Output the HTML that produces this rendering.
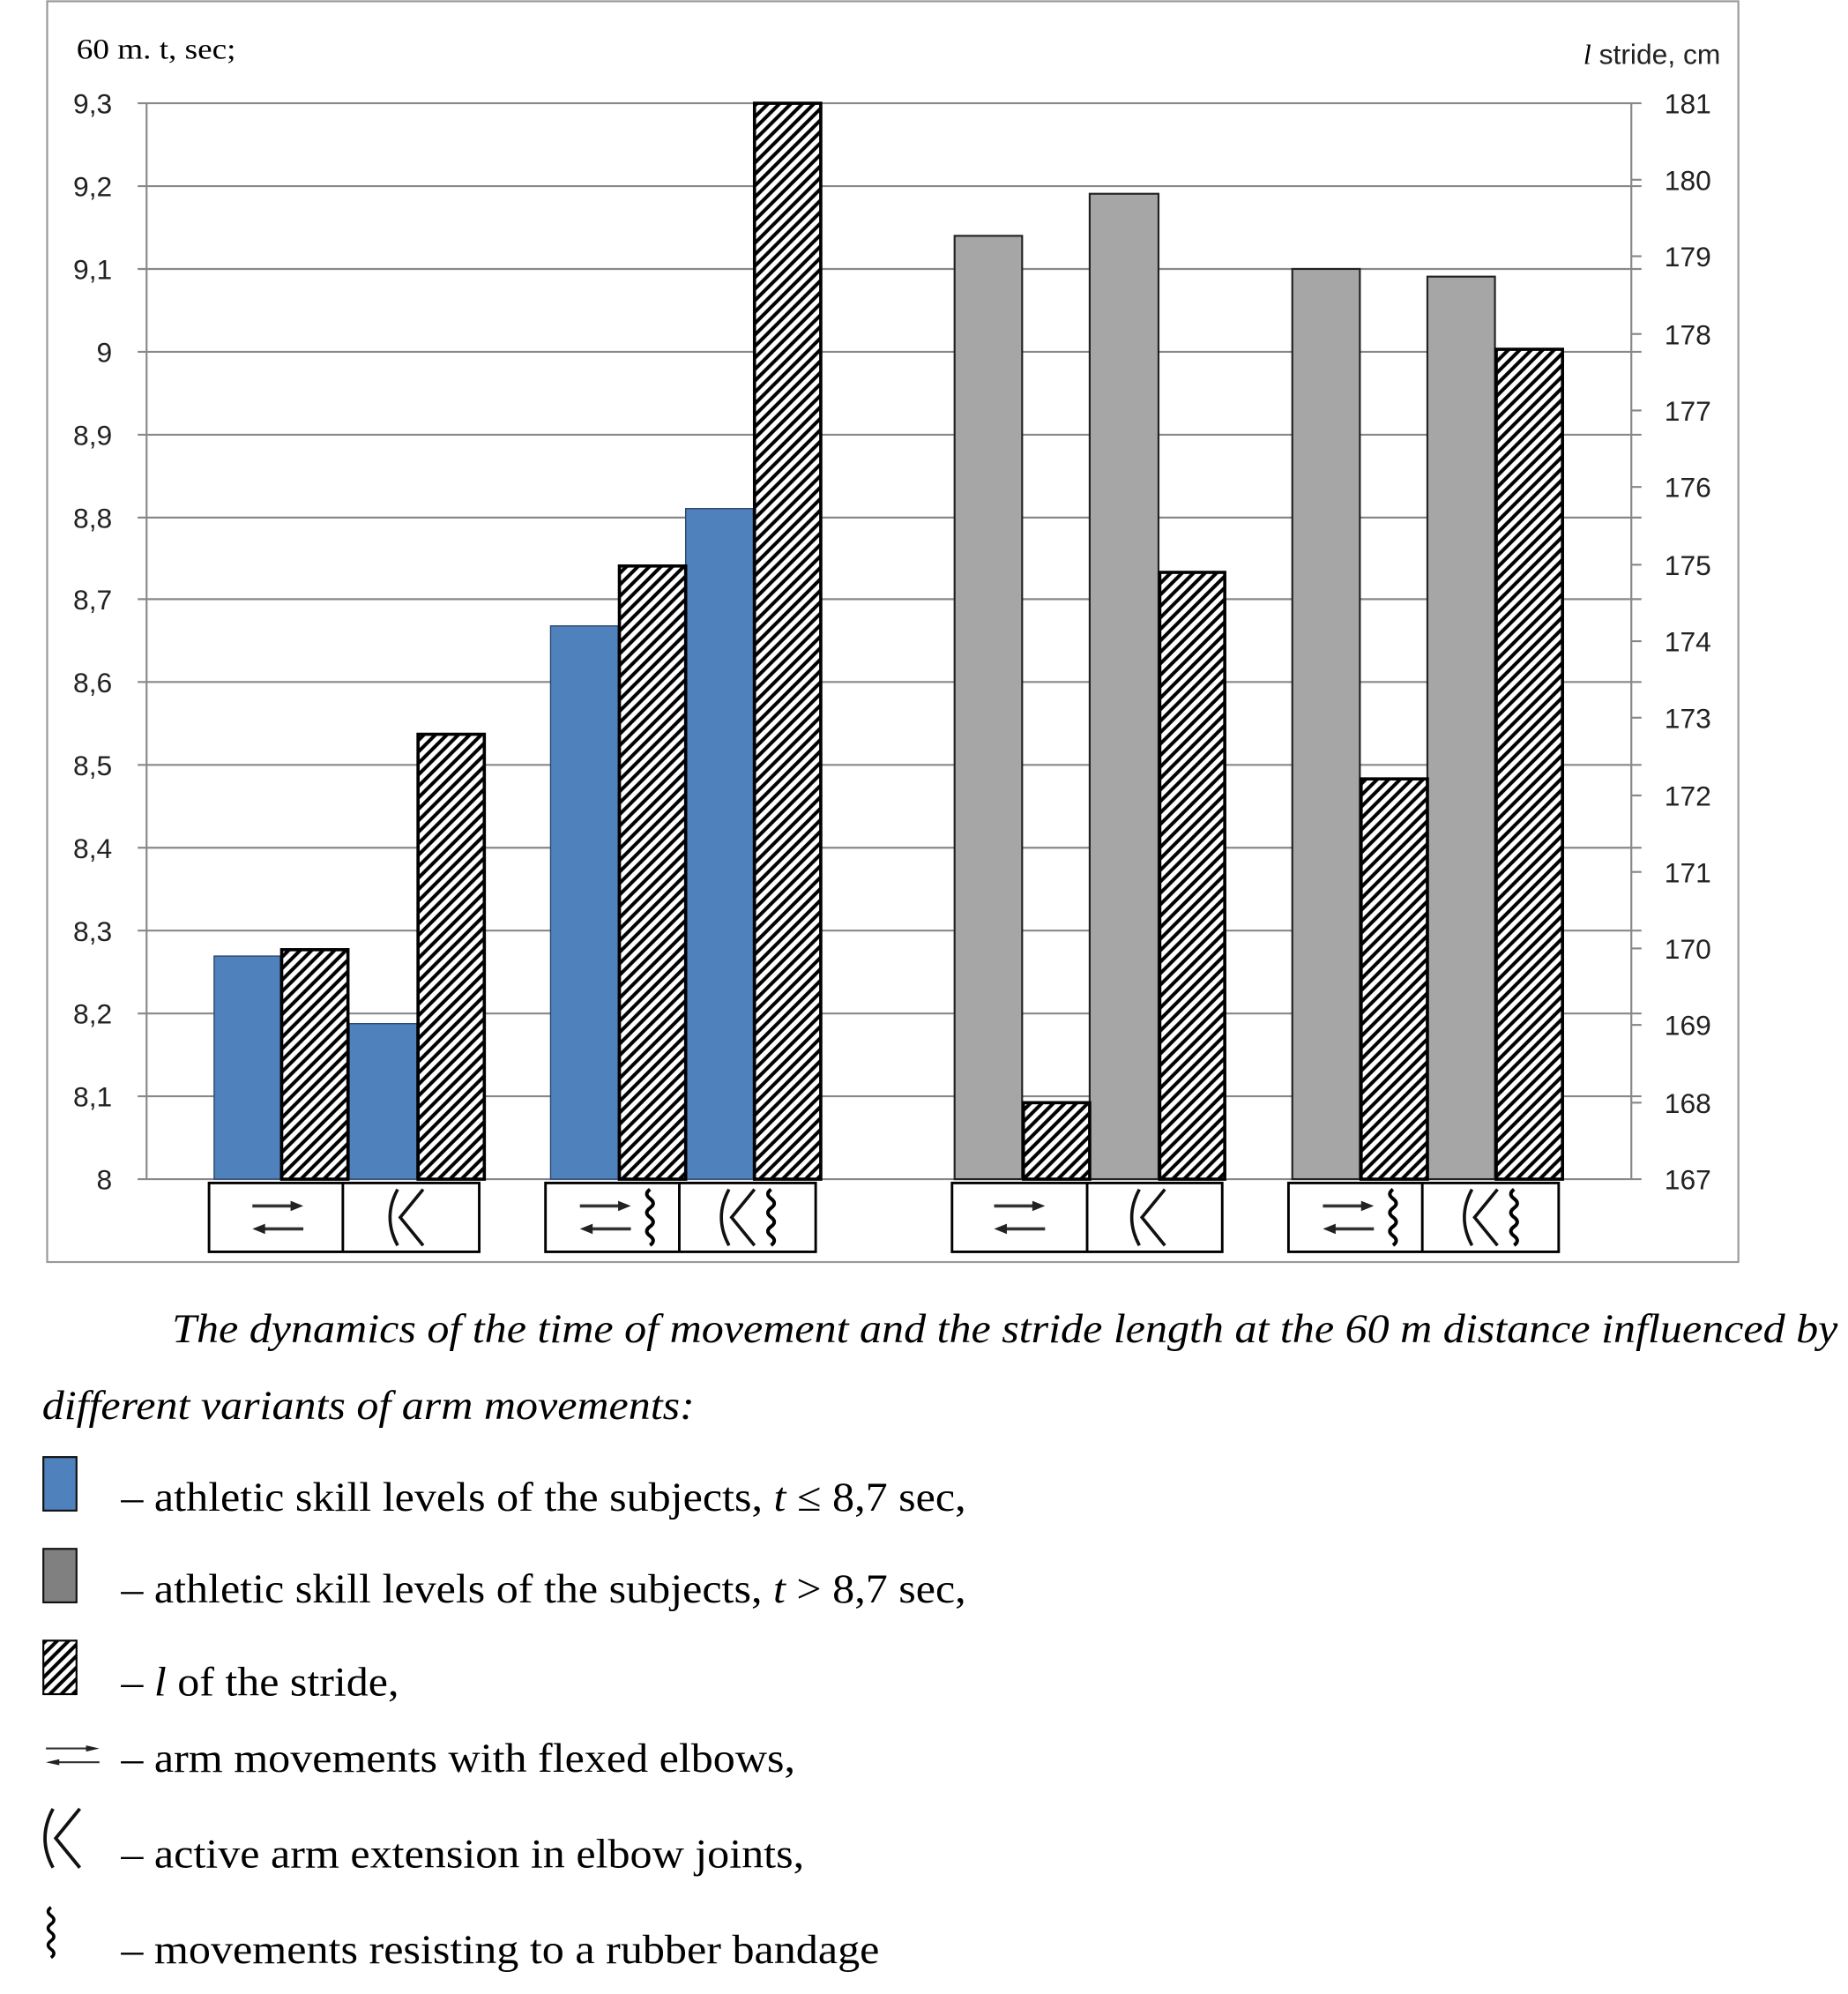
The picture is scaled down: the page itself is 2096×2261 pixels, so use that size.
<!DOCTYPE html>
<html><head><meta charset="utf-8"><style>
html,body{margin:0;padding:0;background:#fff;}
svg{display:block;}
.ax{font-family:"Liberation Sans",sans-serif;font-size:22px;fill:#222;}
.sr{font-family:"Liberation Serif",serif;fill:#000;}
</style></head><body>
<svg width="2096" height="2261" viewBox="0 0 1450 1564.2" xmlns="http://www.w3.org/2000/svg">
<defs>
<pattern id="h" patternUnits="userSpaceOnUse" width="9" height="9">
<rect width="9" height="9" fill="#fff"/>
<path d="M-2 11 L11 -2 M-2 2 L2 -2 M7 11 L11 7" stroke="#000" stroke-width="2.8"/>
</pattern>
<g id="arr"><line x1="-20" y1="-9" x2="14" y2="-9" stroke="#333" stroke-width="2.5"/><path d="M20 -9 L10 -13 L10 -5 Z" fill="#222"/>
<line x1="20" y1="9" x2="-14" y2="9" stroke="#333" stroke-width="2.5"/><path d="M-20 9 L-10 5 L-10 13 Z" fill="#222"/></g>
<g id="elb"><path d="M-8 -22 Q-20 0 -8 22" fill="none" stroke="#111" stroke-width="2.5"/><path d="M12 -22 L-6 0 L12 22" fill="none" stroke="#111" stroke-width="2.5"/></g>
<g id="wav"><path d="M0 -22 q-5 3.7 0 7.3 q5 3.7 0 7.3 q-5 3.7 0 7.3 q5 3.7 0 7.3 q-5 3.7 0 7.3 q5 3.7 0 7.3" fill="none" stroke="#000" stroke-width="2.8"/></g>
</defs>
<rect x="37" y="1" width="1327" height="989" fill="#fff" stroke="#999" stroke-width="1.5"/>
<g stroke="#888" stroke-width="1.5">
<line x1="108" y1="81" x2="1288" y2="81"/><line x1="108" y1="146" x2="1288" y2="146"/><line x1="108" y1="211" x2="1288" y2="211"/><line x1="108" y1="276" x2="1288" y2="276"/><line x1="108" y1="341" x2="1288" y2="341"/><line x1="108" y1="406" x2="1288" y2="406"/><line x1="108" y1="470" x2="1288" y2="470"/><line x1="108" y1="535" x2="1288" y2="535"/><line x1="108" y1="600" x2="1288" y2="600"/><line x1="108" y1="665" x2="1288" y2="665"/><line x1="108" y1="730" x2="1288" y2="730"/><line x1="108" y1="795" x2="1288" y2="795"/><line x1="108" y1="860" x2="1288" y2="860"/><line x1="108" y1="925" x2="1288" y2="925"/>
<line x1="115" y1="81" x2="115" y2="925"/><line x1="1280" y1="81" x2="1280" y2="925"/>
</g>
<g stroke="#888" stroke-width="1.5">
<line x1="1280" y1="141" x2="1288" y2="141"/><line x1="1280" y1="201" x2="1288" y2="201"/><line x1="1280" y1="262" x2="1288" y2="262"/><line x1="1280" y1="322" x2="1288" y2="322"/><line x1="1280" y1="382" x2="1288" y2="382"/><line x1="1280" y1="443" x2="1288" y2="443"/><line x1="1280" y1="503" x2="1288" y2="503"/><line x1="1280" y1="563" x2="1288" y2="563"/><line x1="1280" y1="624" x2="1288" y2="624"/><line x1="1280" y1="684" x2="1288" y2="684"/><line x1="1280" y1="744" x2="1288" y2="744"/><line x1="1280" y1="804" x2="1288" y2="804"/><line x1="1280" y1="865" x2="1288" y2="865"/>
</g>
<g class="ax" text-anchor="end">
<text x="88" y="89">9,3</text><text x="88" y="154">9,2</text><text x="88" y="219">9,1</text><text x="88" y="284">9</text><text x="88" y="349">8,9</text><text x="88" y="414">8,8</text><text x="88" y="478">8,7</text><text x="88" y="543">8,6</text><text x="88" y="608">8,5</text><text x="88" y="673">8,4</text><text x="88" y="738">8,3</text><text x="88" y="803">8,2</text><text x="88" y="868">8,1</text><text x="88" y="933">8</text>
</g>
<g class="ax" text-anchor="start">
<text x="1306" y="89">181</text><text x="1306" y="149">180</text><text x="1306" y="209">179</text><text x="1306" y="270">178</text><text x="1306" y="330">177</text><text x="1306" y="390">176</text><text x="1306" y="451">175</text><text x="1306" y="511">174</text><text x="1306" y="571">173</text><text x="1306" y="632">172</text><text x="1306" y="692">171</text><text x="1306" y="752">170</text><text x="1306" y="812">169</text><text x="1306" y="873">168</text><text x="1306" y="933">167</text>
</g>
<text class="sr" x="60" y="46" font-size="23" textLength="125" lengthAdjust="spacingAndGlyphs">60 m. t, sec;</text>
<text class="ax" x="1350" y="50" text-anchor="end" font-size="23"><tspan class="sr" font-style="italic">l</tspan> stride, cm</text>
<g stroke-width="1">
<rect x="168" y="750" width="52" height="175" fill="#4f81bd" stroke="#2c4a70"/>
<rect x="274" y="803" width="53" height="122" fill="#4f81bd" stroke="#2c4a70"/>
<rect x="432" y="491" width="53" height="434" fill="#4f81bd" stroke="#2c4a70"/>
<rect x="538" y="399" width="53" height="526" fill="#4f81bd" stroke="#2c4a70"/>
</g>
<g fill="#a6a6a6" stroke="#222" stroke-width="1.5">
<rect x="749" y="185" width="53" height="740"/>
<rect x="855" y="152" width="54" height="773"/>
<rect x="1014" y="211" width="53" height="714"/>
<rect x="1120" y="217" width="53" height="708"/>
</g>
<g fill="url(#h)" stroke="#000" stroke-width="2.5">
<rect x="221" y="745" width="52" height="180"/>
<rect x="328" y="576" width="52" height="349"/>
<rect x="486" y="444" width="52" height="481"/>
<rect x="592" y="81" width="52" height="844"/>
<rect x="803" y="865" width="52" height="60"/>
<rect x="910" y="449" width="51" height="476"/>
<rect x="1068" y="611" width="52" height="314"/>
<rect x="1174" y="274" width="52" height="651"/>
</g>
<g fill="#fff" stroke="#000" stroke-width="2">
<rect x="164" y="928" width="212" height="54"/><line x1="269" y1="928" x2="269" y2="982"/>
<rect x="428" y="928" width="212" height="54"/><line x1="533" y1="928" x2="533" y2="982"/>
<rect x="747" y="928" width="212" height="54"/><line x1="853" y1="928" x2="853" y2="982"/>
<rect x="1011" y="928" width="212" height="54"/><line x1="1116" y1="928" x2="1116" y2="982"/>
</g>
<use href="#arr" x="218" y="955"/><use href="#elb" x="320" y="955"/>
<use href="#arr" x="475" y="955"/><use href="#wav" x="510" y="955"/>
<use href="#elb" x="580" y="955"/><use href="#wav" x="605" y="955"/>
<use href="#arr" x="800" y="955"/><use href="#elb" x="902" y="955"/>
<use href="#arr" x="1058" y="955"/><use href="#wav" x="1093" y="955"/>
<use href="#elb" x="1163" y="955"/><use href="#wav" x="1188" y="955"/>
<g class="sr" font-size="32" lengthAdjust="spacingAndGlyphs">
<text x="135" y="1053" font-style="italic" textLength="1307" lengthAdjust="spacingAndGlyphs">The dynamics of the time of movement and the stride length at the 60 m distance influenced by</text>
<text x="33" y="1113" font-style="italic" textLength="512" lengthAdjust="spacingAndGlyphs">different variants of arm movements:</text>
<text x="95" y="1185" textLength="663" lengthAdjust="spacingAndGlyphs">– athletic skill levels of the subjects, <tspan font-style="italic">t</tspan> ≤ 8,7 sec,</text>
<text x="95" y="1257" textLength="663" lengthAdjust="spacingAndGlyphs">– athletic skill levels of the subjects, <tspan font-style="italic">t</tspan> &gt; 8,7 sec,</text>
<text x="95" y="1330" textLength="218" lengthAdjust="spacingAndGlyphs">– <tspan font-style="italic">l</tspan> of the stride,</text>
<text x="95" y="1390" textLength="529" lengthAdjust="spacingAndGlyphs">– arm movements with flexed elbows,</text>
<text x="95" y="1465" textLength="536" lengthAdjust="spacingAndGlyphs">– active arm extension in elbow joints,</text>
<text x="95" y="1540" textLength="595" lengthAdjust="spacingAndGlyphs">– movements resisting to a rubber bandage</text>
</g>
<rect x="34" y="1143" width="26" height="42" fill="#4f81bd" stroke="#111" stroke-width="1.5"/>
<rect x="34" y="1215" width="26" height="42" fill="#808080" stroke="#111" stroke-width="1.5"/>
<rect x="34" y="1287" width="26" height="42" fill="url(#h)" stroke="#000" stroke-width="1.5"/>
<g transform="translate(57,1377) scale(1.05,0.6)"><use href="#arr"/></g>
<g transform="translate(50,1442) scale(1.05)"><use href="#elb"/></g>
<g transform="translate(40,1516) scale(0.9)"><use href="#wav"/></g>
</svg>
</body></html>
